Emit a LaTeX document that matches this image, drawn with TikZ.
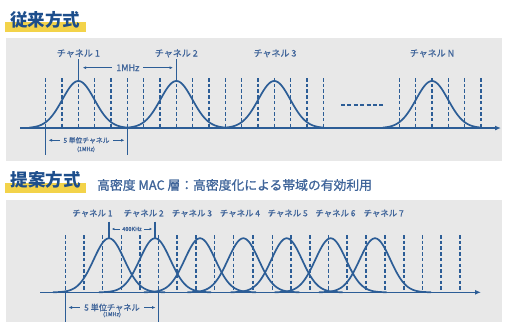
\documentclass[tikz,border=0pt]{standalone}
\usepackage{fontspec}
\setmainfont{Noto Sans CJK JP}
\newfontfamily\medfont{Noto Sans CJK JP}[FakeBold=1.1]
\usetikzlibrary{arrows.meta}
\definecolor{lineblue}{HTML}{2C5D96}
\definecolor{txtblue}{HTML}{40659A}
\definecolor{titleblue}{HTML}{1D4E8C}
\definecolor{hl}{HTML}{F3D34A}
\definecolor{panel}{HTML}{E8E8E8}
\begin{document}
\begin{tikzpicture}[x=1pt,y=-1pt,
  curve/.style={lineblue, line width=1.7pt},
  gridline/.style={lineblue, line width=1.2pt, dash pattern=on 3.5pt off 2.2pt},
  axisline/.style={lineblue, line width=1.6pt, -{Latex[length=6pt,width=5pt]}},
  markline/.style={lineblue, line width=1.3pt},
  dimline/.style={lineblue, line width=1.1pt, {Latex[length=3.5pt,width=3pt]}-{Latex[length=3.5pt,width=3pt]}},
  smalldim/.style={lineblue, line width=0.9pt, {Latex[length=2.5pt,width=2.4pt]}-{Latex[length=2.5pt,width=2.4pt]}},
  lbl/.style={txtblue, inner sep=0pt, font=\medfont\fontsize{9}{9}\selectfont},
  lbltwo/.style={txtblue, inner sep=0pt, font=\medfont\fontsize{8.4}{8.4}\selectfont},
  gaplbl/.style={txtblue, fill=panel, inner sep=2.5pt},
  title/.style={titleblue, inner sep=0pt, font=\fontsize{17.5}{17.5}\selectfont\bfseries},
  subtitle/.style={txtblue, inner sep=0pt, anchor=west, font=\medfont\fontsize{12.8}{12.8}\selectfont}
]
\useasboundingbox (0,0) rectangle (505,322);
% ---------- section 1 ----------
\fill[hl] (5,22) rectangle (86,32);
\node[title] (t1) at (45,19.5) {従来方式};
\fill[panel] (6,38) rectangle (502,161);
% grid
\foreach \k in {0,...,17} \draw[gridline] ({45.7+16.33*\k},78) -- ++(0,50);
\foreach \k in {0,...,5} \draw[gridline] ({399.3+16.33*\k},78) -- ++(0,50);
% curves
\foreach \c in {78.4,176.4,274.3,432}
  \draw[curve] plot[domain=-49:49,samples=80,smooth] ({\c+\x},{128-47*exp(-(\x*\x)/512)});
% axis
\coordinate (ax1s) at (20,128);
\coordinate (ax1e) at (501,128);
\draw[axisline] (ax1s) -- (ax1e);
% dots
\coordinate (d1) at (341,105);
\coordinate (d2) at (383,105);
\draw[lineblue, line width=1.5pt, dash pattern=on 4pt off 2.4pt] (d1) -- (d2);
% labels
\node[lbl] (a1) at (78.4,53.3) {チャネル 1};
\node[lbl] (a2) at (176.4,53.3) {チャネル 2};
\node[lbl] (a3) at (275,53.3) {チャネル 3};
\node[lbl] (aN) at (432,53.3) {チャネル N};
% markers
\coordinate (m1t) at (78.4,59); \coordinate (m1b) at (78.4,81);
\coordinate (m2t) at (176.4,59); \coordinate (m2b) at (176.4,81);
\draw[markline] (m1t) -- (m1b);
\draw[markline] (m2t) -- (m2b);
\coordinate (f1) at (82.7,67.7); \coordinate (f2) at (173,67.7);
\draw[dimline] (f1) -- (f2) node[gaplbl, midway, inner xsep=4pt, font=\medfont\fontsize{9}{9}\selectfont] (mhz) {1MHz};
% bracket
\coordinate (b1t) at (45.7,128); \coordinate (b1b) at (45.7,154.5);
\coordinate (b2t) at (127.3,128); \coordinate (b2b) at (127.3,154.5);
\draw[markline] (b1t) -- (b1b);
\draw[markline] (b2t) -- (b2b);
\coordinate (g1) at (48.5,140.3); \coordinate (g2) at (124.5,140.3);
\draw[dimline] (g1) -- (g2) node[gaplbl, midway, inner xsep=3pt, font=\medfont\fontsize{6.8}{6.8}\selectfont] (u1) {5 単位チャネル};
\node[txtblue, inner sep=0pt, font=\medfont\fontsize{5.5}{5.5}\selectfont] (u1b) at (86,149.3) {(1MHz)};
% ---------- section 2 ----------
\fill[hl] (5,183) rectangle (86,192.5);
\node[title] (t2) at (45.5,180.3) {提案方式};
\node[subtitle] (st) at (97,185) {高密度 MAC 層：高密度化による帯域の有効利用};
\fill[panel] (6,200) rectangle (502,322);
\foreach \xx in {65.7,84,102.7,121.5,140,158.3,177,196,214.3,233.5,253,272.7,291,310,328.5,347,366,385,404,422.7,441,460}
  \draw[gridline] (\xx,235) -- (\xx,292.3);
\foreach \c in {109,155,200,243.3,286.7,330.7,375}
  \draw[curve] plot[domain=-56:56,samples=90,smooth] ({\c+\x},{292.3-54*exp(-(\x*\x)/468)});
\coordinate (ax2s) at (40,292.3);
\coordinate (ax2e) at (481,292.3);
\draw[axisline] (ax2s) -- (ax2e);
\node[lbltwo] (p1) at (92.5,213.3) {チャネル 1};
\node[lbltwo] (p2) at (143.7,213.3) {チャネル 2};
\node[lbltwo] (p3) at (192,213.3) {チャネル 3};
\node[lbltwo] (p4) at (240,213.3) {チャネル 4};
\node[lbltwo] (p5) at (287.7,213.3) {チャネル 5};
\node[lbltwo] (p6) at (335.5,213.3) {チャネル 6};
\node[lbltwo] (p7) at (383.7,213.3) {チャネル 7};
\coordinate (n1t) at (109,221.5); \coordinate (n1b) at (109,238.5);
\coordinate (n2t) at (155,221.5); \coordinate (n2b) at (155,238.5);
\draw[markline] (n1t) -- (n1b);
\draw[markline] (n2t) -- (n2b);
\coordinate (h1) at (111.8,229); \coordinate (h2) at (152.2,229);
\draw[smalldim] (h1) -- (h2) node[gaplbl, midway, inner xsep=2pt, inner ysep=1pt, font=\medfont\fontsize{5.5}{5.5}\selectfont] (khz) {400KHz};
\coordinate (c1t) at (65.7,292.3); \coordinate (c1b) at (65.7,322);
\coordinate (c2t) at (158.3,292.3); \coordinate (c2b) at (158.3,322);
\draw[markline] (c1t) -- (c1b);
\draw[markline] (c2t) -- (c2b);
\coordinate (e1) at (68.5,307.5); \coordinate (e2) at (155.5,307.5);
\draw[dimline] (e1) -- (e2) node[gaplbl, midway, inner xsep=4pt, font=\medfont\fontsize{8.2}{8.2}\selectfont] (u2) {5 単位チャネル};
\node[txtblue, inner sep=0pt, font=\medfont\fontsize{5.5}{5.5}\selectfont] (u2b) at (112,314.5) {(1MHz)};
\end{tikzpicture}
\end{document}
